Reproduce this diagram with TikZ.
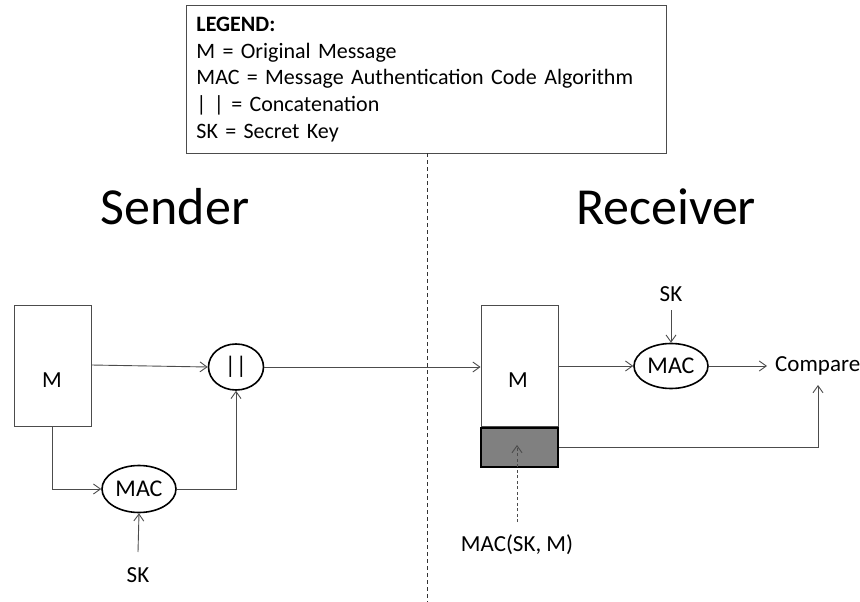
\documentclass[tikz,border=0pt]{standalone}
\usepackage{fontspec}
\setmainfont{Carlito}
\usetikzlibrary{arrows.meta,shapes.geometric}
\begin{document}
\begin{tikzpicture}[x=1pt,y=-1pt,
  line/.style={draw=black!70,line width=0.9pt},
  arr/.style={line,-{Straight Barb[length=7pt,width=10pt]}},
  msgbox/.style={draw=black!70,line width=0.9pt,minimum width=77pt,minimum height=121pt,inner sep=0pt},
  op/.style={ellipse,draw=black,line width=1.6pt,inner sep=0pt,font=\fontsize{24}{28}\selectfont},
  lbl/.style={font=\fontsize{23}{27}\selectfont,inner sep=0pt},
  title/.style={font=\fontsize{52}{60}\selectfont,inner sep=0pt}]
\useasboundingbox (0,0) rectangle (860,602);

% legend
\node[draw=black!70,line width=0.9pt,anchor=north west,minimum width=477pt,minimum height=148pt,
      text width=460pt,align=left,inner sep=10pt,font=\fontsize{22}{26.8}\selectfont] (legend) at (186,5)
  {\textbf{LEGEND:}\\ M = Original Message\\ MAC = Message Authentication Code Algorithm\\ | | = Concatenation\\ SK = Secret Key};

% divider
\coordinate (divtop) at (427,153);
\coordinate (divbot) at (427,602);
\draw[black!80,line width=0.9pt,dash pattern=on 4pt off 3pt] (divtop) -- (divbot);

\node[title] (sender) at (175,207) {Sender};
\node[title] (receiver) at (666,207) {Receiver};

% sender side
\node[msgbox] (sm) at (52.5,365.5) {};
\node[lbl] (smlbl) at (52,380) {M};
\node[op,minimum width=55pt,minimum height=46pt] (cat) at (236,367) {||};
\node[op,minimum width=74pt,minimum height=47pt] (smac) at (139,489) {MAC};
\node[lbl] (ssk) at (138,575) {SK};
\coordinate (sskup) at (138,552);

\draw[arr] (sm.east |- 0,365) -- (cat.west);
\draw[arr] (sm.south) |- (smac.west);
\draw[arr] (smac.east) -| (cat.south);
\draw[arr] (sskup) -- (smac.south);

% receiver side
\node[msgbox] (rm) at (519.5,366) {};
\node[lbl] (rmlbl) at (518,380) {M};
\node[draw=black,line width=1.6pt,fill=black!50,minimum width=77pt,minimum height=39pt,inner sep=0pt,anchor=north] (tag) at (rm.south) {};
\node[op,minimum width=74pt,minimum height=45pt] (rmac) at (671,366) {MAC};
\node[lbl] (rsk) at (671,294) {SK};
\coordinate (rskdn) at (671,310);
\node[lbl,anchor=west] (cmp) at (775,366) {Compare};
\coordinate (cmpin) at (818,385);
\node[lbl] (tagl) at (517,545) {MAC(SK, M)};
\coordinate (tagup) at (517,445);

\draw[arr] (cat.east) -- (rm.west |- cat.east);
\draw[arr] (rm.east) -- (rmac.west);
\draw[arr] (rskdn) -- (rmac.north);
\draw[arr] (rmac.east) -- ([xshift=-8pt]cmp.west);
\draw[arr] (tag.east) -| (cmpin);
\draw[arr,dash pattern=on 3pt off 2.5pt] (tagl.north |- 0,522) -- (tagup);
\end{tikzpicture}
\end{document}
